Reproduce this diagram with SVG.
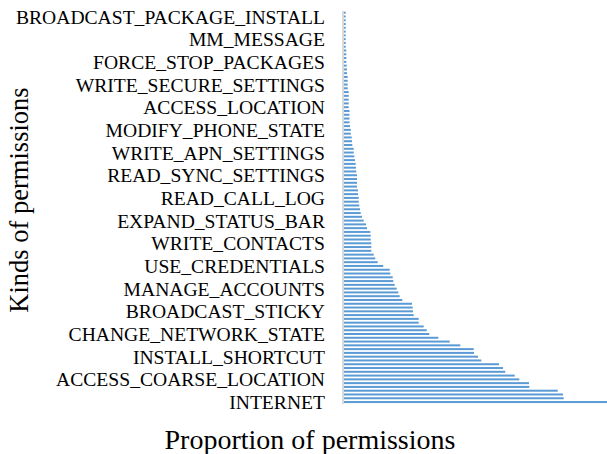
<svg xmlns="http://www.w3.org/2000/svg" width="607" height="454" viewBox="0 0 607 454">
  <style>
    .bar { fill: #5b9bd5; }
    .cat { font-family: "Liberation Serif", "Times New Roman", serif; font-size: 19.6px; fill: #000; text-anchor: end; }
    .title { font-family: "Liberation Serif", "Times New Roman", serif; font-size: 28px; fill: #000; text-anchor: middle; }
  </style>
  <rect x="0" y="0" width="607" height="454" fill="#fff"/>

  <!-- category axis -->
  <line x1="343" y1="11" x2="343" y2="404" stroke="#d9d9d9" stroke-width="2"/>

  <!-- bars, one per permission, 3.78 px pitch -->
  <g id="bars">
    <rect class="bar" x="344" y="11.70" width="1.7" height="2"/>
    <rect class="bar" x="344" y="15.48" width="1.7" height="2"/>
    <rect class="bar" x="344" y="19.26" width="1.7" height="2"/>
    <rect class="bar" x="344" y="23.04" width="1.7" height="2"/>
    <rect class="bar" x="344" y="26.82" width="1.7" height="2"/>
    <rect class="bar" x="344" y="30.60" width="1.7" height="2"/>
    <rect class="bar" x="344" y="34.38" width="1.7" height="2"/>
    <rect class="bar" x="344" y="38.16" width="1.7" height="2"/>
    <rect class="bar" x="344" y="41.94" width="1.7" height="2"/>
    <rect class="bar" x="344" y="45.72" width="1.7" height="2"/>
    <rect class="bar" x="344" y="49.50" width="2.3" height="2"/>
    <rect class="bar" x="344" y="53.28" width="2.3" height="2"/>
    <rect class="bar" x="344" y="57.06" width="2.3" height="2"/>
    <rect class="bar" x="344" y="60.84" width="2.3" height="2"/>
    <rect class="bar" x="344" y="64.62" width="2.7" height="2"/>
    <rect class="bar" x="344" y="68.40" width="3" height="2"/>
    <rect class="bar" x="344" y="72.18" width="3" height="2"/>
    <rect class="bar" x="344" y="75.96" width="3.7" height="2"/>
    <rect class="bar" x="344" y="79.74" width="3.7" height="2"/>
    <rect class="bar" x="344" y="83.52" width="3.7" height="2"/>
    <rect class="bar" x="344" y="87.30" width="3.7" height="2"/>
    <rect class="bar" x="344" y="91.08" width="4.7" height="2"/>
    <rect class="bar" x="344" y="94.86" width="4.7" height="2"/>
    <rect class="bar" x="344" y="98.64" width="4.7" height="2"/>
    <rect class="bar" x="344" y="102.42" width="4.7" height="2"/>
    <rect class="bar" x="344" y="106.20" width="4.7" height="2"/>
    <rect class="bar" x="344" y="109.98" width="5.5" height="2"/>
    <rect class="bar" x="344" y="113.76" width="5.5" height="2"/>
    <rect class="bar" x="344" y="117.54" width="5.5" height="2"/>
    <rect class="bar" x="344" y="121.32" width="5.5" height="2"/>
    <rect class="bar" x="344" y="125.10" width="6" height="2"/>
    <rect class="bar" x="344" y="128.88" width="6.8" height="2"/>
    <rect class="bar" x="344" y="132.66" width="6.8" height="2"/>
    <rect class="bar" x="344" y="136.44" width="7.7" height="2"/>
    <rect class="bar" x="344" y="140.22" width="8" height="2"/>
    <rect class="bar" x="344" y="144.00" width="8.3" height="2"/>
    <rect class="bar" x="344" y="147.78" width="9.7" height="2"/>
    <rect class="bar" x="344" y="151.56" width="9.7" height="2"/>
    <rect class="bar" x="344" y="155.34" width="10.3" height="2"/>
    <rect class="bar" x="344" y="159.12" width="11" height="2"/>
    <rect class="bar" x="344" y="162.90" width="11.7" height="2"/>
    <rect class="bar" x="344" y="166.68" width="12" height="2"/>
    <rect class="bar" x="344" y="170.46" width="12.3" height="2"/>
    <rect class="bar" x="344" y="174.24" width="13" height="2"/>
    <rect class="bar" x="344" y="178.02" width="13" height="2"/>
    <rect class="bar" x="344" y="181.80" width="13" height="2"/>
    <rect class="bar" x="344" y="185.58" width="13" height="2"/>
    <rect class="bar" x="344" y="189.36" width="14" height="2"/>
    <rect class="bar" x="344" y="193.14" width="14" height="2"/>
    <rect class="bar" x="344" y="196.92" width="14.7" height="2"/>
    <rect class="bar" x="344" y="200.70" width="14.7" height="2"/>
    <rect class="bar" x="344" y="204.48" width="15.3" height="2"/>
    <rect class="bar" x="344" y="208.26" width="16" height="2"/>
    <rect class="bar" x="344" y="212.04" width="16.7" height="2"/>
    <rect class="bar" x="344" y="215.82" width="18" height="2"/>
    <rect class="bar" x="344" y="219.60" width="19.7" height="2"/>
    <rect class="bar" x="344" y="223.38" width="22" height="2"/>
    <rect class="bar" x="344" y="227.16" width="23" height="2"/>
    <rect class="bar" x="344" y="230.94" width="26.3" height="2"/>
    <rect class="bar" x="344" y="234.72" width="26.7" height="2"/>
    <rect class="bar" x="344" y="238.50" width="26.7" height="2"/>
    <rect class="bar" x="344" y="242.28" width="27.3" height="2"/>
    <rect class="bar" x="344" y="246.06" width="27.3" height="2"/>
    <rect class="bar" x="344" y="249.84" width="27.3" height="2"/>
    <rect class="bar" x="344" y="253.62" width="29.7" height="2"/>
    <rect class="bar" x="344" y="257.40" width="31.3" height="2"/>
    <rect class="bar" x="344" y="261.18" width="33.7" height="2"/>
    <rect class="bar" x="344" y="264.96" width="39.2" height="2"/>
    <rect class="bar" x="344" y="268.74" width="45.7" height="2"/>
    <rect class="bar" x="344" y="272.52" width="46.3" height="2"/>
    <rect class="bar" x="344" y="276.30" width="48.7" height="2"/>
    <rect class="bar" x="344" y="280.08" width="49.3" height="2"/>
    <rect class="bar" x="344" y="283.86" width="50.7" height="2"/>
    <rect class="bar" x="344" y="287.64" width="52.7" height="2"/>
    <rect class="bar" x="344" y="291.42" width="54.3" height="2"/>
    <rect class="bar" x="344" y="295.20" width="55.7" height="2"/>
    <rect class="bar" x="344" y="298.98" width="58.3" height="2"/>
    <rect class="bar" x="344" y="302.76" width="68" height="2"/>
    <rect class="bar" x="344" y="306.54" width="68.7" height="2"/>
    <rect class="bar" x="344" y="310.32" width="69" height="2"/>
    <rect class="bar" x="344" y="314.10" width="69.7" height="2"/>
    <rect class="bar" x="344" y="317.88" width="74.7" height="2"/>
    <rect class="bar" x="344" y="321.66" width="74.7" height="2"/>
    <rect class="bar" x="344" y="325.44" width="79.7" height="2"/>
    <rect class="bar" x="344" y="329.22" width="82.7" height="2"/>
    <rect class="bar" x="344" y="333.00" width="85.3" height="2"/>
    <rect class="bar" x="344" y="336.78" width="94.3" height="2"/>
    <rect class="bar" x="344" y="340.56" width="105.7" height="2"/>
    <rect class="bar" x="344" y="344.34" width="116.3" height="2"/>
    <rect class="bar" x="344" y="348.12" width="129.7" height="2"/>
    <rect class="bar" x="344" y="351.90" width="130" height="2"/>
    <rect class="bar" x="344" y="355.68" width="134" height="2"/>
    <rect class="bar" x="344" y="359.46" width="137.3" height="2"/>
    <rect class="bar" x="344" y="363.24" width="155" height="2"/>
    <rect class="bar" x="344" y="367.02" width="159" height="2"/>
    <rect class="bar" x="344" y="370.80" width="161.3" height="2"/>
    <rect class="bar" x="344" y="374.58" width="170.7" height="2"/>
    <rect class="bar" x="344" y="378.36" width="175.3" height="2"/>
    <rect class="bar" x="344" y="382.14" width="185" height="2"/>
    <rect class="bar" x="344" y="385.92" width="185.3" height="2"/>
    <rect class="bar" x="344" y="389.70" width="213.7" height="2"/>
    <rect class="bar" x="344" y="393.48" width="219" height="2"/>
    <rect class="bar" x="344" y="397.26" width="219.7" height="2"/>
    <rect class="bar" x="344" y="401.04" width="263" height="2"/>
  </g>

  <!-- category labels, every sixth bar -->
  <g id="labels">
    <text class="cat" x="325" y="23.5">BROADCAST_PACKAGE_INSTALL</text>
    <text class="cat" x="325" y="46.2">MM_MESSAGE</text>
    <text class="cat" x="325" y="68.8">FORCE_STOP_PACKAGES</text>
    <text class="cat" x="325" y="91.5">WRITE_SECURE_SETTINGS</text>
    <text class="cat" x="325" y="114.2">ACCESS_LOCATION</text>
    <text class="cat" x="325" y="136.9">MODIFY_PHONE_STATE</text>
    <text class="cat" x="325" y="159.6">WRITE_APN_SETTINGS</text>
    <text class="cat" x="325" y="182.2">READ_SYNC_SETTINGS</text>
    <text class="cat" x="325" y="204.9">READ_CALL_LOG</text>
    <text class="cat" x="325" y="227.6">EXPAND_STATUS_BAR</text>
    <text class="cat" x="325" y="250.3">WRITE_CONTACTS</text>
    <text class="cat" x="325" y="273.0">USE_CREDENTIALS</text>
    <text class="cat" x="325" y="295.6">MANAGE_ACCOUNTS</text>
    <text class="cat" x="325" y="318.3">BROADCAST_STICKY</text>
    <text class="cat" x="325" y="341.0">CHANGE_NETWORK_STATE</text>
    <text class="cat" x="325" y="363.7">INSTALL_SHORTCUT</text>
    <text class="cat" x="325" y="386.4">ACCESS_COARSE_LOCATION</text>
    <text class="cat" x="325" y="409.0">INTERNET</text>
  </g>

  <!-- axis titles -->
  <g id="axis-titles">
    <text class="title" x="310" y="449">Proportion of permissions</text>
    <text class="title" style="font-size:26.5px" transform="translate(28 200) rotate(-90)" x="0" y="0">Kinds of permissions</text>
  </g>
</svg>
